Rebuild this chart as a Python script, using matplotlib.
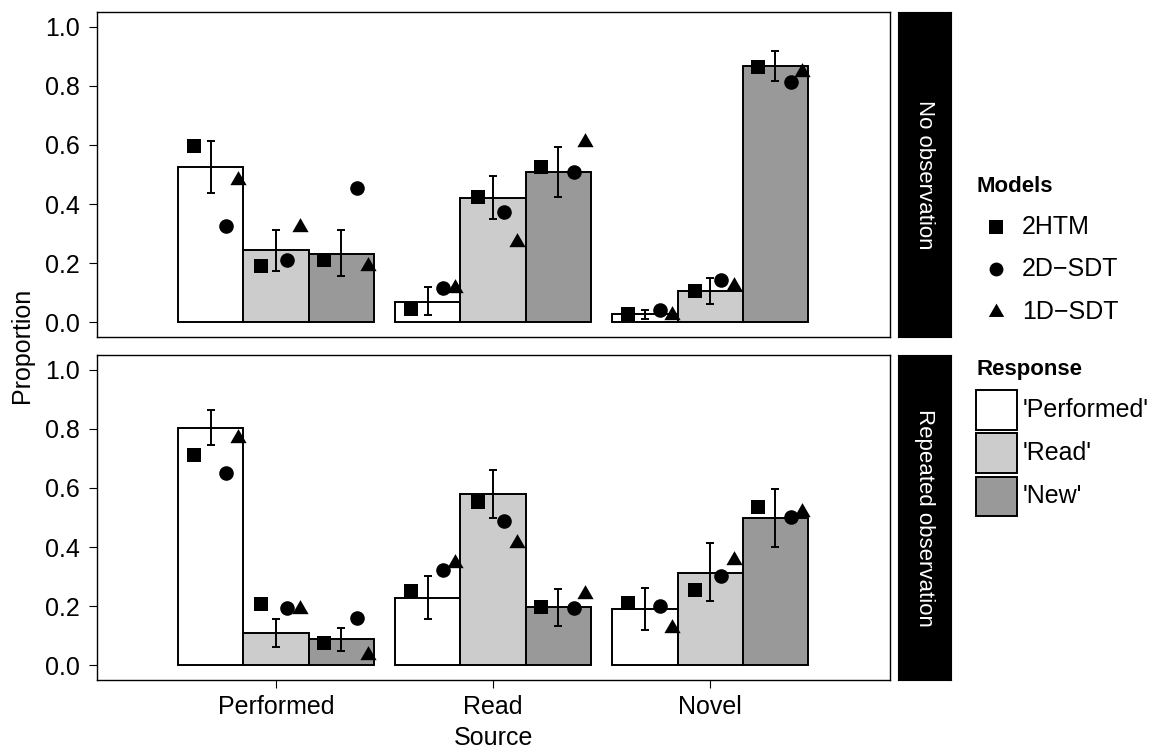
import matplotlib.pyplot as plt
import numpy as np
from matplotlib.lines import Line2D
from matplotlib.patches import Rectangle

plt.rcParams['font.family'] = ['Liberation Sans', 'DejaVu Sans']

sources = ['Performed', 'Read', 'Novel']
responses = ["'Performed'", "'Read'", "'New'"]
models = ['2HTM', '2D\u2212SDT', '1D\u2212SDT']
conditions = ['No observation', 'Repeated observation']

# observed response proportions: rows = source, columns = response
obs_none = [[0.524, 0.244, 0.232],
            [0.070, 0.422, 0.508],
            [0.028, 0.106, 0.866]]
obs_repeat = [[0.804, 0.108, 0.088],
              [0.226, 0.578, 0.196],
              [0.189, 0.313, 0.498]]

# error bar limits
lo_none = [[0.436, 0.175, 0.155],
           [0.023, 0.348, 0.423],
           [0.011, 0.063, 0.815]]
hi_none = [[0.613, 0.312, 0.312],
           [0.119, 0.495, 0.593],
           [0.043, 0.150, 0.919]]
lo_repeat = [[0.747, 0.062, 0.048],
             [0.155, 0.498, 0.133],
             [0.119, 0.217, 0.400]]
hi_repeat = [[0.863, 0.155, 0.126],
             [0.301, 0.661, 0.258],
             [0.261, 0.413, 0.598]]

# model predictions
htm_none = [[0.597, 0.189, 0.211],
            [0.046, 0.425, 0.526],
            [0.029, 0.107, 0.863]]
sdt2_none = [[0.327, 0.211, 0.456],
             [0.115, 0.374, 0.509],
             [0.043, 0.142, 0.812]]
sdt1_none = [[0.482, 0.321, 0.192],
             [0.115, 0.270, 0.610],
             [0.025, 0.122, 0.848]]
htm_repeat = [[0.713, 0.206, 0.076],
              [0.251, 0.552, 0.197],
              [0.211, 0.256, 0.534]]
sdt2_repeat = [[0.649, 0.193, 0.160],
               [0.324, 0.487, 0.194],
               [0.200, 0.301, 0.503]]
sdt1_repeat = [[0.770, 0.192, 0.034],
               [0.347, 0.413, 0.241],
               [0.125, 0.356, 0.519]]

panels = [
    (obs_none, lo_none, hi_none, [htm_none, sdt2_none, sdt1_none]),
    (obs_repeat, lo_repeat, hi_repeat, [htm_repeat, sdt2_repeat, sdt1_repeat]),
]

fills = ['white', '#cccccc', '#999999']
tri = [(0, 1), (-0.866, -0.5), (0.866, -0.5), (0, 1)]
markers = [('s', 10), ('o', 10.5), (tri, 13.5)]
# horizontal shift of model points inside each bar
point_shift = [[-0.078, 0.071, 0.124],
               [-0.069, 0.051, 0.111],
               [-0.078, 0.071, 0.124]]

W, H = 1155, 751
fig = plt.figure(figsize=(W / 100, H / 100), dpi=100)


def box(x0, y0, x1, y1):
    return [x0 / W, 1 - y1 / H, (x1 - x0) / W, (y1 - y0) / H]


rows = [(12, 337), (355, 680)]
x = np.arange(1, len(sources) + 1)
bw = 0.3

for i, (obs, lo, hi, preds) in enumerate(panels):
    top, bot = rows[i]
    ax = fig.add_axes(box(96.7, top, 890, bot))
    obs = np.array(obs)
    lo = np.array(lo)
    hi = np.array(hi)
    for r in range(len(responses)):
        xr = x + (r - 1) * bw
        ax.bar(xr, obs[:, r], width=bw, color=fills[r], edgecolor='black',
               linewidth=1.4, zorder=2)
        ax.errorbar(xr, obs[:, r], yerr=[obs[:, r] - lo[:, r], hi[:, r] - obs[:, r]],
                    fmt='none', ecolor='black', elinewidth=1.4, capsize=3,
                    capthick=1.4, zorder=3)
        for m, pred in enumerate(preds):
            mk, ms = markers[m]
            ax.plot(xr + point_shift[r][m], np.array(pred)[:, r], linestyle='none',
                    marker=mk, markersize=ms, color='black', markeredgewidth=0,
                    zorder=4)

    ax.set_xlim(0.174, 3.829)
    ax.set_ylim(-0.05, 1.05)
    ax.set_yticks(np.arange(0, 1.01, 0.2))
    ax.set_yticklabels([f'{v:.1f}' for v in np.arange(0, 1.01, 0.2)])
    ax.tick_params(axis='both', length=6, width=0.8, labelsize=18, colors='black')
    ax.tick_params(axis='y', pad=6)
    ax.tick_params(axis='x', pad=5)
    for s in ax.spines.values():
        s.set_linewidth(1.0)
    if i == 0:
        ax.set_xticks([])
    else:
        ax.set_xticks(x)
        ax.set_xticklabels(sources)

    strip = fig.add_axes(box(897.7, top, 951, bot))
    strip.set_facecolor('black')
    strip.set_xticks([])
    strip.set_yticks([])
    strip.text(0.5, 0.5, conditions[i], rotation=-90, color='white', fontsize=16,
               ha='center', va='center', transform=strip.transAxes)

fig.text(22 / W, 1 - 345 / H, 'Proportion', rotation=90, ha='center', va='center',
         fontsize=18)
fig.text(493.4 / W, 1 - 738 / H, 'Source', ha='center', va='center', fontsize=18)

# legend: models
fig.text(976 / W, 1 - 186 / H, 'Models', fontweight='bold', fontsize=16,
         ha='left', va='center')
for m, name in enumerate(models):
    y = 226.7 + m * 42.5
    mk, ms = markers[m]
    fig.add_artist(Line2D([996 / W], [1 - y / H], marker=mk, markersize=ms * 0.95,
                          color='black', markeredgewidth=0, linestyle='none',
                          transform=fig.transFigure))
    fig.text(1022 / W, 1 - y / H, name, fontsize=18, ha='left', va='center')

# legend: responses
fig.text(976 / W, 1 - 370 / H, 'Response', fontweight='bold', fontsize=16,
         ha='left', va='center')
for r, name in enumerate(responses):
    y0 = 390 + r * 43.3
    fig.add_artist(Rectangle((976 / W, 1 - (y0 + 39.5) / H), 40.7 / W, 39.5 / H,
                             facecolor=fills[r], edgecolor='black', linewidth=1.4,
                             transform=fig.transFigure))
    fig.text(1023 / W, 1 - (y0 + 19.75) / H, name, fontsize=18, ha='left',
             va='center')

fig.savefig('out.png', dpi=100)
